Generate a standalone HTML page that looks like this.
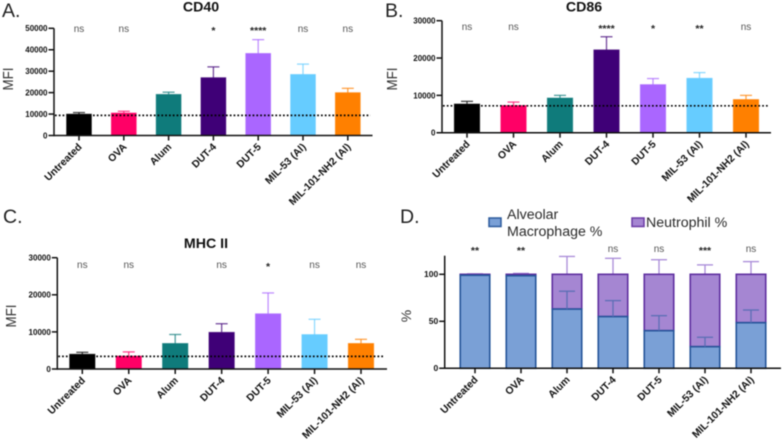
<!DOCTYPE html>
<html>
<head>
<meta charset="utf-8">
<style>
html,body{margin:0;padding:0;background:#fff;width:783px;height:446px;overflow:hidden}
svg{display:block;filter:blur(0.4px)}
text{font-family:"Liberation Sans",Arial,sans-serif}
</style>
</head>
<body>
<svg id="figure" width="783" height="446" viewBox="0 0 783 446" xmlns="http://www.w3.org/2000/svg">
  <text x="2" y="17" font-size="19.5" fill="#222">A.</text>
  <text x="385" y="17" font-size="19.5" fill="#222">B.</text>
  <text x="3" y="223" font-size="19.5" fill="#222">C.</text>
  <text x="400" y="223" font-size="19.5" fill="#222">D.</text>
  <g>
    <rect x="489" y="218" width="12" height="8.5" fill="#7aa0d6" stroke="#2c5a9c" stroke-width="1.5"/>
    <text x="507" y="219" font-size="14.2" fill="#2a2a2a">Alveolar</text>
    <text x="507" y="236" font-size="14.2" fill="#2a2a2a">Macrophage %</text>
    <rect x="632" y="218" width="12" height="8.5" fill="#a586d2" stroke="#6a3aa5" stroke-width="1.5"/>
    <text x="646" y="227" font-size="14.2" fill="#2a2a2a">Neutrophil %</text>
  </g>
</svg>
<script>
var categories = ['Untreated','OVA','Alum','DUT-4','DUT-5','MIL-53 (Al)','MIL-101-NH2 (Al)'];
var barColors = ['#000000','#ff0066','#0f7b7b','#3f0077','#aa66ff','#66ccff','#ff8000'];

var cd40Means = [10000,10500,19200,27000,38300,28500,20000];
var cd40Tops = [10700,11300,20200,32000,44700,33300,22000];
var cd40Baseline = 9400;
var cd40Sig = ['ns','ns','','*','****','ns','ns'];
var cd40Ticks = [0,10000,20000,30000,40000,50000];

var cd86Means = [7700,7300,9300,22200,12900,14600,8900];
var cd86Tops = [8400,8200,10000,25700,14500,16100,10000];
var cd86Baseline = 7200;
var cd86Sig = ['ns','ns','','****','*','**','ns'];
var cd86Ticks = [0,10000,20000,30000];

var mhcMeans = [4000,3500,6900,9900,14900,9300,6900];
var mhcTops = [4500,4600,9300,12200,20500,13400,8000];
var mhcBaseline = 3400;
var mhcSig = ['ns','ns','','ns','*','ns','ns'];
var mhcTicks = [0,10000,20000,30000];

var macrophagePct = [99,98.5,63,55,40,23,48.5];
var macrophageTops = [99,98.5,82,72,56,33,62];
var neutrophilTotal = [100,100,100,100,100,100,100];
var neutrophilTops = [100.5,101,119,117,115.5,110,113.5];
var stackedSig = ['**','**','','ns','ns','***','ns'];
var stackedTicks = [0,50,100];

var NS = 'http://www.w3.org/2000/svg';
var svg = document.getElementById('figure');

function mk(parent, tag, attrs, name) {
  var el = document.createElementNS(NS, tag);
  for (var k in attrs) el.setAttribute(k, attrs[k]);
  
  
  parent.appendChild(el);
  return el;
}

function addText(parent, attrs, str, name) {
  var t = mk(parent, 'text', attrs, name);
  t.textContent = str;
  return t;
}

function slug(s) {
  return s.toLowerCase().replace(/[^a-z0-9]+/g, '-').replace(/-$/, '');
}

function makeAxes(p) {
  p.y = function (v) { return p.y0 + (v / p.yMax) * (p.yTop - p.y0); };
  p.x = function (i) { return p.cx0 + p.step * i; };
}

function drawFrame(g, p) {
  var stroke = '#111';
  mk(g, 'line', {x1:p.axisX, x2:p.axisX, y1:p.axisTop === undefined ? p.yTop : p.axisTop, y2:p.y0+0.7, stroke:stroke, 'stroke-width':1.5}, p.id + '-y-axis');
  mk(g, 'line', {x1:p.axisX-5.5, x2:p.right, y1:p.y0, y2:p.y0, stroke:stroke, 'stroke-width':1.5}, p.id + '-x-axis');
  p.ticks.forEach(function (v) {
    var yy = p.y(v);
    if (v !== 0) mk(g, 'line', {x1:p.axisX-5.5, x2:p.axisX, y1:yy, y2:yy, stroke:stroke, 'stroke-width':1.5}, p.id + '-y-tick-' + v);
    addText(g, {x:p.axisX-6.5, y:yy+2.9, 'font-size':p.tickFont, 'font-weight':'bold', fill:'#111', 'text-anchor':'end'}, String(v), p.id + '-y-tick-label-' + v);
  });
  categories.forEach(function (c, i) {
    var cx = p.x(i);
    mk(g, 'line', {x1:cx, x2:cx, y1:p.y0, y2:p.y0+5, stroke:stroke, 'stroke-width':1.5}, p.id + '-x-tick-' + slug(c));
    var lx = cx + 3.5, ly = p.y0 + 12;
    addText(g, {x:lx, y:ly, 'font-size':10.3, 'font-weight':'bold', fill:'#111', 'text-anchor':'end', transform:'rotate(-45 ' + lx + ' ' + ly + ')'}, c, p.id + '-x-label-' + slug(c));
  });
}

function drawSig(g, p, sig) {
  sig.forEach(function (s, i) {
    if (!s) return;
    var star = s !== 'ns';
    addText(g, {x:p.x(i), y:p.sigY + (star ? 5 : 3), 'font-size':star ? 10.5 : 10, 'font-weight':star ? 'bold' : 'normal', fill:star ? '#222' : '#555', 'text-anchor':'middle'}, s, p.id + '-significance-' + slug(categories[i]));
  });
}

function drawTitle(g, p) {
  addText(g, {x:p.titleX, y:p.titleY, 'font-size':14.2, 'font-weight':'bold', fill:'#111', 'text-anchor':'middle'}, p.title, p.id + '-title');
  var tx = p.yTitleX, ty = p.yTitleY;
  addText(g, {x:tx, y:ty, 'font-size':p.yTitleFont, fill:'#333', 'text-anchor':'middle', textLength:23, lengthAdjust:'spacingAndGlyphs', transform:'rotate(-90 ' + tx + ' ' + ty + ')'}, p.yTitle, p.id + '-y-axis-title');
}

function errorBar(g, cx, yFrom, yTo, color, capHalf, name) {
  mk(g, 'line', {x1:cx, x2:cx, y1:yFrom, y2:yTo, stroke:color, 'stroke-width':1.3}, name + '-stem');
  mk(g, 'line', {x1:cx-capHalf, x2:cx+capHalf, y1:yTo, y2:yTo, stroke:color, 'stroke-width':1.3}, name + '-cap');
}

function drawBarPanel(p, means, tops, baseline, sig) {
  makeAxes(p);
  var g = mk(svg, 'g', {}, p.id + '-panel');
  drawTitle(g, p);
  means.forEach(function (m, i) {
    var cx = p.x(i), yy = p.y(m), name = p.id + '-bar-' + slug(categories[i]);
    errorBar(g, cx, yy, p.y(tops[i]), barColors[i], 6, name + '-error');
    mk(g, 'rect', {x:cx-p.bw/2, y:yy, width:p.bw, height:p.y0-yy, fill:barColors[i], stroke:barColors[i], 'stroke-opacity':0.55, 'stroke-width':0.8}, name);
    g.lastChild.previousSibling.setAttribute('opacity', '0.72');
    g.lastChild.previousSibling.previousSibling.setAttribute('opacity', '0.72');
  });
  mk(g, 'line', {x1:p.axisX+1, x2:p.right-2, y1:p.y(baseline), y2:p.y(baseline), stroke:'#000', 'stroke-width':1.7, 'stroke-dasharray':'1.7 2.1'}, p.id + '-baseline-dotted');
  drawFrame(g, p);
  drawSig(g, p, sig);
}

function drawStackedPanel(p) {
  makeAxes(p);
  var g = mk(svg, 'g', {}, p.id + '-panel');
  var tx = p.yTitleX, ty = p.yTitleY;
  addText(g, {x:tx, y:ty, 'font-size':p.yTitleFont, fill:'#333', 'text-anchor':'middle', transform:'rotate(-90 ' + tx + ' ' + ty + ')'}, p.yTitle, p.id + '-y-axis-title');
  categories.forEach(function (c, i) {
    var cx = p.x(i), s = slug(c);
    var yMac = p.y(macrophagePct[i]), yTot = p.y(neutrophilTotal[i]);
    errorBar(g, cx, yTot, p.y(neutrophilTops[i]), '#a88ad8', 8, p.id + '-neutrophil-error-' + s);
    mk(g, 'rect', {x:cx-p.bw/2, y:yTot, width:p.bw, height:yMac-yTot, fill:'#a586d2', stroke:'#6030a0', 'stroke-width':1.6}, p.id + '-neutrophil-bar-' + s);
    mk(g, 'rect', {x:cx-p.bw/2, y:yMac, width:p.bw, height:p.y0-yMac, fill:'#7aa0d6', stroke:'#26559a', 'stroke-width':1.6}, p.id + '-macrophage-bar-' + s);
    if (macrophageTops[i] > macrophagePct[i]) {
      errorBar(g, cx, yMac, p.y(macrophageTops[i]), '#5b6fb5', 8, p.id + '-macrophage-error-' + s);
    }
  });
  drawFrame(g, p);
  drawSig(g, p, stackedSig);
}

drawBarPanel({id:'cd40', title:'CD40', titleX:201, titleY:11.5, yTitle:'MFI', yTitleX:13, yTitleY:79, yTitleFont:15,
  axisX:54, y0:135.5, yTop:28.3, yMax:50000, right:372.5, cx0:79, step:44.8, bw:25, ticks:cd40Ticks, tickFont:8, sigY:29},
  cd40Means, cd40Tops, cd40Baseline, cd40Sig);

drawBarPanel({id:'cd86', title:'CD86', titleX:584, titleY:11.5, yTitle:'MFI', yTitleX:397, yTitleY:79, yTitleFont:15,
  axisX:442, y0:132.7, yTop:20.7, yMax:30000, right:771, cx0:467, step:46.5, bw:25.5, ticks:cd86Ticks, tickFont:8, sigY:27},
  cd86Means, cd86Tops, cd86Baseline, cd86Sig);

drawBarPanel({id:'mhc-ii', title:'MHC II', titleX:206, titleY:248, yTitle:'MFI', yTitleX:16, yTitleY:316, yTitleFont:15,
  axisX:57.3, y0:369, yTop:257.7, yMax:30000, right:387, cx0:82.3, step:46.45, bw:25.5, ticks:mhcTicks, tickFont:8, sigY:265},
  mhcMeans, mhcTops, mhcBaseline, mhcSig);

drawStackedPanel({id:'cell-percent', yTitle:'%', yTitleX:411, yTitleY:316, yTitleFont:14,
  axisX:444.7, y0:368.3, yTop:274.3, yMax:100, axisTop:255.7, right:781, cx0:475, step:46, bw:29.5, ticks:stackedTicks, tickFont:8.5, sigY:249});
</script>
</body>
</html>
